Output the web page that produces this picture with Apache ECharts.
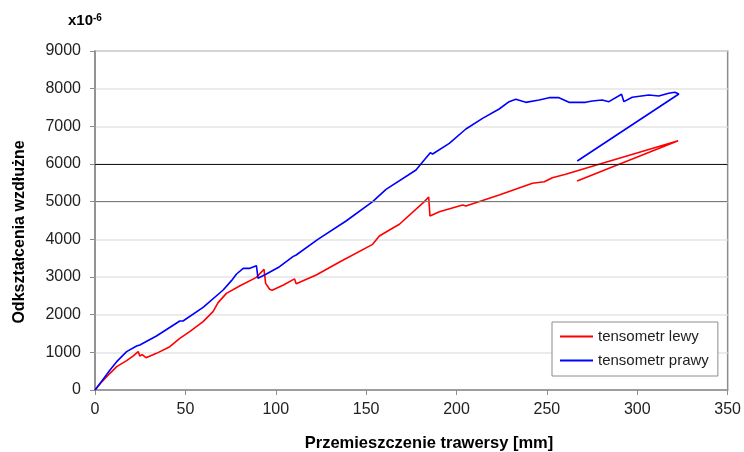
<!DOCTYPE html>
<html>
<head>
<meta charset="utf-8">
<script src="https://cdn.jsdelivr.net/npm/echarts@6/dist/echarts.min.js"></script>
<style>
html,body{margin:0;padding:0;background:#fff;}
#c{width:744px;height:452px;}
</style>
</head>
<body>
<div id="c"></div>
<script>
const seriesNames = ['tensometr lewy', 'tensometr prawy'];
const xTitle = 'Przemieszczenie trawersy [mm]';
const yTitle = 'Odkształcenia wzdłużne';

const leftX = [0, 4, 8.3, 12, 17.5, 21, 23.9, 24.8, 26.1, 28.2, 34, 41.4, 46.9, 52.4, 59.8, 65.3, 68.1, 72.7, 80, 89.3, 93.5, 94.4, 96.6, 98, 104, 110.4, 111.3, 122.4, 135.3, 153.6, 157.3, 162.9, 168.4, 182.2, 184.6, 185.3, 190.5, 203.4, 205.2, 223.6, 242, 248.6, 253, 260.4, 273.3, 322.6, 266.7];
const leftY = [0, 230, 443, 619, 779, 900, 1018, 903, 938, 858, 973, 1150, 1372, 1549, 1814, 2080, 2319, 2566, 2761, 2991, 3204, 2832, 2673, 2650, 2780, 2950, 2820, 3053, 3398, 3867, 4088, 4248, 4400, 5000, 5125, 4620, 4734, 4912, 4885, 5177, 5487, 5530, 5637, 5726, 5912, 6615, 5549];

const rightX = [0, 4, 8.3, 12, 17.5, 23, 24.8, 34, 46.9, 48.7, 59.8, 70.9, 75.5, 78.3, 82, 85.7, 89.3, 90.2, 94.8, 102.1, 109.5, 111.3, 123.3, 138.9, 153.6, 161, 177.6, 180.3, 185.5, 186.8, 196, 205.2, 214.4, 223.6, 229.1, 232.8, 238.3, 245.7, 251.2, 256.7, 262.2, 271.4, 275.1, 280.6, 284.3, 291.3, 292.6, 297.2, 306.4, 311.9, 317.4, 320.8, 323, 266.8];
const rightY = [0, 250, 531, 752, 1018, 1168, 1195, 1434, 1832, 1832, 2195, 2655, 2903, 3080, 3230, 3230, 3300, 2965, 3080, 3274, 3540, 3584, 4000, 4487, 5000, 5327, 5840, 6000, 6300, 6265, 6549, 6929, 7212, 7460, 7655, 7717, 7637, 7699, 7761, 7761, 7637, 7637, 7673, 7699, 7655, 7850, 7655, 7770, 7832, 7805, 7877, 7903, 7858, 6080];

const xTicks = [0, 50, 100, 150, 200, 250, 300, 350];
const yTicks = [0, 1000, 2000, 3000, 4000, 5000, 6000, 7000, 8000, 9000];
const darkLines = [5000, 6000];

const pairs = (xs, ys) => xs.map((x, i) => [x, ys[i]]);

const chart = echarts.init(document.getElementById('c'));
const FONT = 'Liberation Sans, Arial, sans-serif';

chart.setOption({
  animation: false,
  backgroundColor: '#ffffff',
  textStyle: { fontFamily: FONT },
  grid: {
    left: 95, right: 15, top: 51, bottom: 62,
    show: true, borderColor: '#8c8c8c', borderWidth: 1.5, backgroundColor: 'transparent'
  },
  xAxis: {
    type: 'value',
    min: xTicks[0], max: xTicks[xTicks.length - 1], interval: 50,
    axisLine: { show: true, lineStyle: { color: '#8c8c8c', width: 1.5 } },
    axisTick: { show: true, length: 5, lineStyle: { color: '#8c8c8c' } },
    axisLabel: { color: '#222', fontSize: 16, margin: 12, fontFamily: FONT, formatter: v => String(v) },
    splitLine: { show: false }
  },
  yAxis: {
    type: 'value',
    min: yTicks[0], max: yTicks[yTicks.length - 1], interval: 1000,
    axisLine: { show: true, lineStyle: { color: '#8c8c8c', width: 1.5 } },
    axisTick: { show: true, length: 5, lineStyle: { color: '#8c8c8c' } },
    axisLabel: { color: '#222', fontSize: 16, margin: 14, fontFamily: FONT, formatter: v => String(v) },
    splitLine: { show: true, lineStyle: { color: '#e4e4e4', width: 1.5 } }
  },
  legend: {
    data: seriesNames,
    orient: 'vertical',
    left: 552, top: 322,
    padding: [7, 9, 8, 8],
    itemGap: 9,
    itemWidth: 33, itemHeight: 2,
    icon: 'rect',
    borderColor: '#8c8c8c', borderWidth: 1,
    backgroundColor: '#fff',
    textStyle: { fontSize: 15, color: '#222', fontFamily: FONT }
  },
  graphic: [
    {
      type: 'text', left: 68, top: 13,
      style: {
        text: '{a|x10}{b|-6}',
        rich: {
          a: { fontSize: 15, fontWeight: 'bold', fill: '#000', fontFamily: FONT },
          b: { fontSize: 10, fontWeight: 'bold', fill: '#000', fontFamily: FONT, verticalAlign: 'top' }
        }
      }
    },
    {
      type: 'text', x: 20, y: 232, rotation: Math.PI / 2,
      style: { text: yTitle, fontSize: 16, fontWeight: 'bold', fill: '#000', align: 'center', verticalAlign: 'middle', fontFamily: FONT }
    },
    {
      type: 'text', x: 429, y: 443,
      style: { text: xTitle, fontSize: 16.5, fontWeight: 'bold', fill: '#000', align: 'center', verticalAlign: 'middle', fontFamily: FONT }
    }
  ],
  series: [
    {
      name: 'grid-dark', type: 'line', data: [], z: 1, silent: true,
      markLine: {
        silent: true, symbol: 'none', label: { show: false },
        data: darkLines.map((v, i) => ({ yAxis: v, lineStyle: { color: i === 0 ? '#7a7a7a' : '#1a1a1a', width: 1.2, type: 'solid' } }))
      }
    },
    {
      name: seriesNames[0], type: 'line', data: pairs(leftX, leftY),
      showSymbol: false, symbol: 'none', z: 3,
      lineStyle: { color: '#ff0000', width: 1.6 }, itemStyle: { color: '#ff0000' }
    },
    {
      name: seriesNames[1], type: 'line', data: pairs(rightX, rightY),
      showSymbol: false, symbol: 'none', z: 3,
      lineStyle: { color: '#0000ff', width: 1.6 }, itemStyle: { color: '#0000ff' }
    }
  ]
});
</script>
</body>
</html>
